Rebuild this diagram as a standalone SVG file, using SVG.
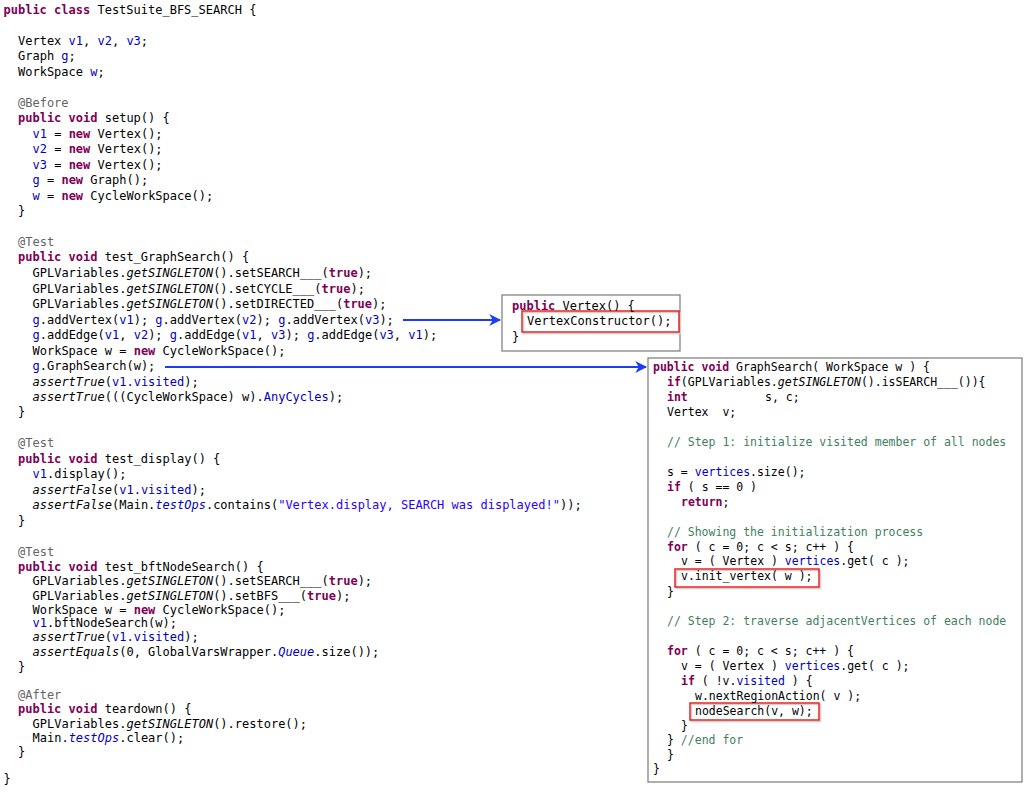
<svg xmlns="http://www.w3.org/2000/svg" width="1036" height="793" viewBox="0 0 1036 793">
<style>
text{font-family:"DejaVu Sans Mono","Liberation Mono",monospace;font-size:12px;fill:#000;white-space:pre}
#graph-search text{font-size:11.5px}
.k{fill:#7f0055;font-weight:bold}
.f{fill:#0000c0}
.s{fill:#2a00ff}
.c{fill:#3f7f5f}
.a{fill:#646464}
.i{font-style:italic}
.box{fill:#fff;stroke:#7a7a7a;stroke-width:1.2}
.hl{fill:none;stroke:#e8231f;stroke-width:1.5}
.sh{fill:none;stroke:#d0d0d0;stroke-width:1.5}
.arr{fill:none;stroke:#1c3cf5;stroke-width:2}
</style>
<defs>
<marker id="ah" viewBox="0 0 10 10" refX="9" refY="5" markerWidth="12" markerHeight="12" markerUnits="userSpaceOnUse" orient="auto">
<path d="M0,0 L10,5 L0,10 L3,5 Z" fill="#1c3cf5"/>
</marker>
</defs>
<rect width="1036" height="793" fill="#fff"/>
<g id="test-suite" xml:space="preserve">
<text x="3.5" y="14"><tspan class="k">public class</tspan> TestSuite_BFS_SEARCH {</text>
<text x="18" y="45">Vertex <tspan class="f">v1</tspan>, <tspan class="f">v2</tspan>, <tspan class="f">v3</tspan>;</text>
<text x="18" y="60">Graph <tspan class="f">g</tspan>;</text>
<text x="18" y="76">WorkSpace <tspan class="f">w</tspan>;</text>
<text x="18" y="107" class="a">@Before</text>
<text x="18" y="122"><tspan class="k">public void</tspan> setup() {</text>
<text x="32.5" y="138"><tspan class="f">v1</tspan> = <tspan class="k">new</tspan> Vertex();</text>
<text x="32.5" y="153"><tspan class="f">v2</tspan> = <tspan class="k">new</tspan> Vertex();</text>
<text x="32.5" y="169"><tspan class="f">v3</tspan> = <tspan class="k">new</tspan> Vertex();</text>
<text x="32.5" y="184"><tspan class="f">g</tspan> = <tspan class="k">new</tspan> Graph();</text>
<text x="32.5" y="200"><tspan class="f">w</tspan> = <tspan class="k">new</tspan> CycleWorkSpace();</text>
<text x="18" y="215">}</text>
<text x="18" y="246" class="a">@Test</text>
<text x="18" y="261"><tspan class="k">public void</tspan> test_GraphSearch() {</text>
<text x="32.5" y="277">GPLVariables.<tspan class="i">getSINGLETON</tspan>().setSEARCH___(<tspan class="k">true</tspan>);</text>
<text x="32.5" y="293">GPLVariables.<tspan class="i">getSINGLETON</tspan>().setCYCLE___(<tspan class="k">true</tspan>);</text>
<text x="32.5" y="308">GPLVariables.<tspan class="i">getSINGLETON</tspan>().setDIRECTED___(<tspan class="k">true</tspan>);</text>
<text x="32.5" y="324"><tspan class="f">g</tspan>.addVertex(<tspan class="f">v1</tspan>); <tspan class="f">g</tspan>.addVertex(<tspan class="f">v2</tspan>); <tspan class="f">g</tspan>.addVertex(<tspan class="f">v3</tspan>);</text>
<text x="32.5" y="339"><tspan class="f">g</tspan>.addEdge(<tspan class="f">v1</tspan>, <tspan class="f">v2</tspan>); <tspan class="f">g</tspan>.addEdge(<tspan class="f">v1</tspan>, <tspan class="f">v3</tspan>); <tspan class="f">g</tspan>.addEdge(<tspan class="f">v3</tspan>, <tspan class="f">v1</tspan>);</text>
<text x="32.5" y="355">WorkSpace w = <tspan class="k">new</tspan> CycleWorkSpace();</text>
<text x="32.5" y="370"><tspan class="f">g</tspan>.GraphSearch(w);</text>
<text x="32.5" y="386"><tspan class="i">assertTrue</tspan>(<tspan class="f">v1.visited</tspan>);</text>
<text x="32.5" y="401"><tspan class="i">assertTrue</tspan>(((CycleWorkSpace) w).<tspan class="f">AnyCycles</tspan>);</text>
<text x="18" y="416">}</text>
<text x="18" y="447" class="a">@Test</text>
<text x="18" y="463"><tspan class="k">public void</tspan> test_display() {</text>
<text x="32.5" y="478"><tspan class="f">v1</tspan>.display();</text>
<text x="32.5" y="494"><tspan class="i">assertFalse</tspan>(<tspan class="f">v1.visited</tspan>);</text>
<text x="32.5" y="509"><tspan class="i">assertFalse</tspan>(Main.<tspan class="f i">testOps</tspan>.contains(<tspan class="s">"Vertex.display, SEARCH was displayed!"</tspan>));</text>
<text x="18" y="525">}</text>
<text x="18" y="556" class="a">@Test</text>
<text x="18" y="571"><tspan class="k">public void</tspan> test_bftNodeSearch() {</text>
<text x="32.5" y="585">GPLVariables.<tspan class="i">getSINGLETON</tspan>().setSEARCH___(<tspan class="k">true</tspan>);</text>
<text x="32.5" y="600">GPLVariables.<tspan class="i">getSINGLETON</tspan>().setBFS___(<tspan class="k">true</tspan>);</text>
<text x="32.5" y="614">WorkSpace w = <tspan class="k">new</tspan> CycleWorkSpace();</text>
<text x="32.5" y="627"><tspan class="f">v1</tspan>.bftNodeSearch(w);</text>
<text x="32.5" y="641"><tspan class="i">assertTrue</tspan>(<tspan class="f">v1.visited</tspan>);</text>
<text x="32.5" y="656"><tspan class="i">assertEquals</tspan>(0, GlobalVarsWrapper.<tspan class="f i">Queue</tspan>.size());</text>
<text x="18" y="671">}</text>
<text x="18" y="699" class="a">@After</text>
<text x="18" y="713"><tspan class="k">public void</tspan> teardown() {</text>
<text x="32.5" y="728">GPLVariables.<tspan class="i">getSINGLETON</tspan>().restore();</text>
<text x="32.5" y="742">Main.<tspan class="f i">testOps</tspan>.clear();</text>
<text x="18" y="756">}</text>
<text x="3.5" y="783">}</text>
</g>
<g id="vertex-ctor" xml:space="preserve">
<rect class="box" x="502" y="295" width="178" height="56"/>
<rect class="sh" x="523.5" y="312.5" width="157" height="21"/>
<rect class="hl" x="522" y="311" width="157" height="21"/>
<text x="512" y="310"><tspan class="k">public</tspan> Vertex() {</text>
<text x="527" y="325">VertexConstructor();</text>
<text x="512" y="341">}</text>
</g>
<g id="graph-search" xml:space="preserve">
<rect class="box" x="648" y="358" width="374" height="424"/>
<rect class="sh" x="676.5" y="570.5" width="144" height="18"/>
<rect class="hl" x="675" y="569" width="144" height="18"/>
<rect class="sh" x="691.5" y="704.5" width="129" height="17"/>
<rect class="hl" x="690" y="703" width="129" height="17"/>
<text x="653" y="371"><tspan class="k">public void</tspan> GraphSearch( WorkSpace w ) {</text>
<text x="667" y="386"><tspan class="k">if</tspan>(GPLVariables.<tspan class="i">getSINGLETON</tspan>().isSEARCH___()){</text>
<text x="667" y="401" class="k">int</text>
<text x="765" y="401">s, c;</text>
<text x="667" y="416">Vertex  v;</text>
<text x="667" y="446" class="c">// Step 1: initialize visited member of all nodes</text>
<text x="667" y="476">s = <tspan class="f">vertices</tspan>.size();</text>
<text x="667" y="491"><tspan class="k">if</tspan> ( s == 0 )</text>
<text x="681" y="506"><tspan class="k">return</tspan>;</text>
<text x="667" y="536" class="c">// Showing the initialization process</text>
<text x="667" y="551"><tspan class="k">for</tspan> ( c = 0; c &lt; s; c++ ) {</text>
<text x="681" y="565">v = ( Vertex ) <tspan class="f">vertices</tspan>.get( c );</text>
<text x="681" y="580">v.init_vertex( w );</text>
<text x="667" y="596">}</text>
<text x="667" y="625" class="c">// Step 2: traverse adjacentVertices of each node</text>
<text x="667" y="655"><tspan class="k">for</tspan> ( c = 0; c &lt; s; c++ ) {</text>
<text x="681" y="670">v = ( Vertex ) <tspan class="f">vertices</tspan>.get( c );</text>
<text x="681" y="685"><tspan class="k">if</tspan> ( !v.<tspan class="f">visited</tspan> ) {</text>
<text x="695" y="700">w.nextRegionAction( v );</text>
<text x="695" y="715">nodeSearch(v, w);</text>
<text x="681" y="730">}</text>
<text x="667" y="744">} <tspan class="c">//end for</tspan></text>
<text x="667" y="759">}</text>
<text x="653" y="773">}</text>
</g>
<g id="connectors">
<line class="arr" x1="403" y1="320" x2="500" y2="320" marker-end="url(#ah)"/>
<line class="arr" x1="165" y1="367" x2="646" y2="367" marker-end="url(#ah)"/>
</g>
</svg>
